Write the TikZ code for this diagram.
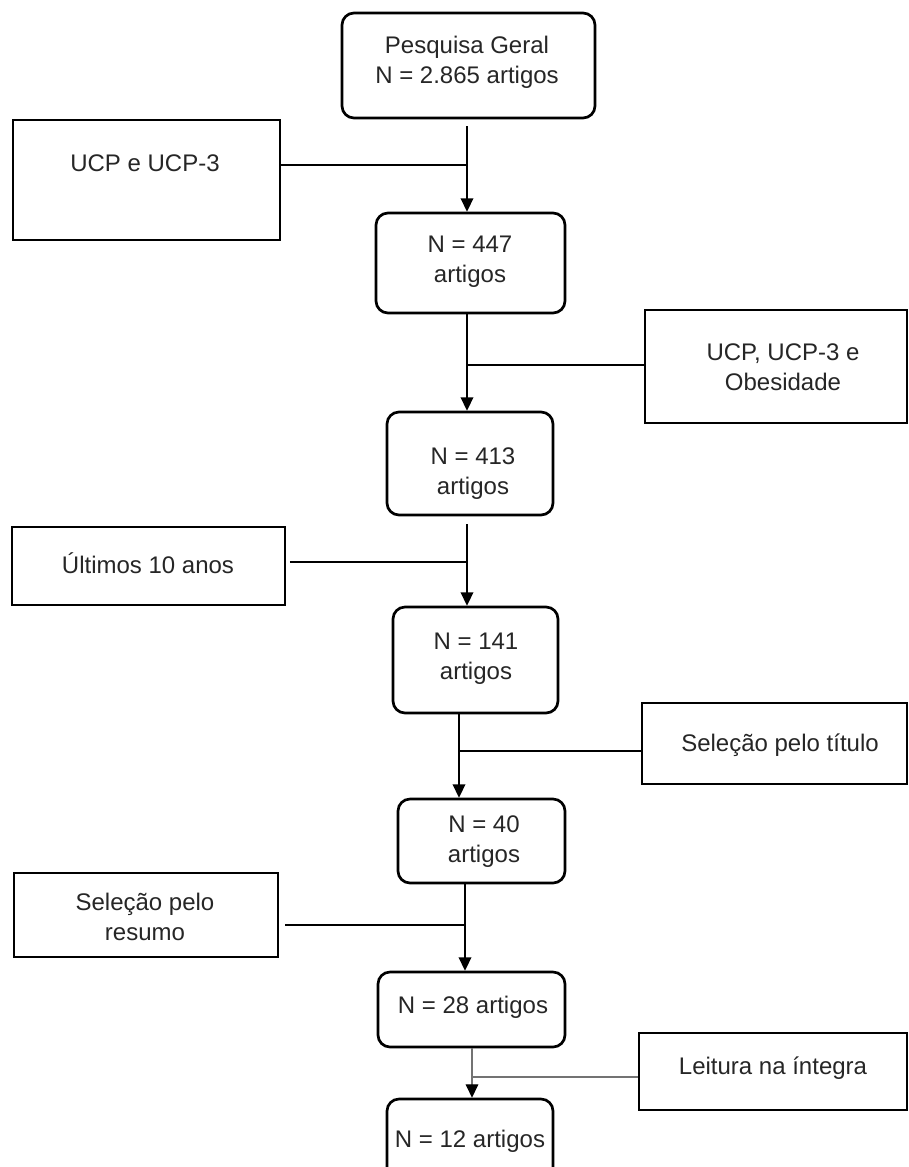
\documentclass[tikz,border=0pt]{standalone}
\usepackage{fontspec}
\setmainfont{Liberation Sans}
\usetikzlibrary{arrows.meta}
\begin{document}
\begin{tikzpicture}[x=0.75pt,y=-0.75pt,
  rbox/.style={draw, line width=2pt, rounded corners=9pt, inner sep=0pt},
  sbox/.style={draw, line width=1.2pt, rectangle, inner sep=0pt},
  txt/.style={align=center, font=\fontsize{18}{22.5}\selectfont, text=black!85, inner sep=0pt},
  conn/.style={line width=1.1pt},
  arr/.style={conn, -{Triangle[width=9.5pt,length=10pt]}},
  lightconn/.style={line width=0.8pt, draw=black!55},
  lightarr/.style={lightconn, -{Triangle[width=9.5pt,length=10pt,color=black]}}]
\clip (0,0) rectangle (909,1167);
\fill[white] (0,0) rectangle (909,1167);

% main column boxes
\node[rbox, minimum width={253*0.75pt}, minimum height={105*0.75pt}] (b1) at (468.5,65.5) {};
\node[txt] (t1) at (467,62) {Pesquisa Geral\\N = 2.865 artigos};
\node[rbox, minimum width={189*0.75pt}, minimum height={100*0.75pt}] (b2) at (470.5,263) {};
\node[txt] (t2) at (470,262) {N = 447\\artigos};
\node[rbox, minimum width={166*0.75pt}, minimum height={103*0.75pt}] (b3) at (470,463.5) {};
\node[txt] (t3) at (473,473.5) {N = 413\\artigos};
\node[rbox, minimum width={165*0.75pt}, minimum height={106*0.75pt}] (b4) at (475.5,660) {};
\node[txt] (t4) at (476,659) {N = 141\\artigos};
\node[rbox, minimum width={167*0.75pt}, minimum height={84*0.75pt}] (b5) at (481.5,841) {};
\node[txt] (t5) at (484,842) {N = 40\\artigos};
\node[rbox, minimum width={187*0.75pt}, minimum height={75*0.75pt}] (b6) at (471.5,1009.5) {};
\node[txt] (t6) at (473,1007) {N = 28 artigos};
\node[rbox, minimum width={166*0.75pt}, minimum height={81*0.75pt}] (b7) at (470,1139.5) {};
\node[txt] (t7) at (470,1141) {N = 12 artigos};

% side boxes
\node[sbox, minimum width={267*0.75pt}, minimum height={120*0.75pt}] (s1) at (146.5,180) {};
\node[txt] (u1) at (145,163) {UCP e UCP-3};
\node[sbox, minimum width={262*0.75pt}, minimum height={113*0.75pt}] (s2) at (776,366.5) {};
\node[txt] (u2) at (783,367) {UCP, UCP-3 e\\Obesidade};
\node[sbox, minimum width={273*0.75pt}, minimum height={78*0.75pt}] (s3) at (148.5,566) {};
\node[txt] (u3) at (148,563) {Últimos 10 anos};
\node[sbox, minimum width={265*0.75pt}, minimum height={81*0.75pt}] (s4) at (774.5,743.5) {};
\node[txt] (u4) at (780,745) {Seleção pelo título};
\node[sbox, minimum width={264*0.75pt}, minimum height={84*0.75pt}] (s5) at (146,915) {};
\node[txt] (u5) at (145,917) {Seleção pelo\\resumo};
\node[sbox, minimum width={268*0.75pt}, minimum height={77*0.75pt}] (s6) at (773,1071.5) {};
\node[txt] (u6) at (773,1068) {Leitura na íntegra};

% junctions
\coordinate (j1) at (467,165);
\coordinate (j2) at (467,365);
\coordinate (j3) at (467,562);
\coordinate (j4) at (459,751);
\coordinate (j5) at (465,925);
\coordinate (j6) at (472,1077);

% vertical arrows
\draw[arr, shorten <=5pt] (b1.south -| j1) -- (b2.north -| j1);
\draw[arr] (b2.south -| j2) -- (b3.north -| j2);
\draw[arr, shorten <=6pt] (b3.south -| j3) -- (b4.north -| j3);
\draw[arr] (b4.south -| j4) -- (b5.north -| j4);
\draw[arr] (b5.south -| j5) -- (b6.north -| j5);
\draw[lightarr] (b6.south -| j6) -- (b7.north -| j6);

% side connectors
\draw[conn] (s1.east |- j1) -- (j1);
\draw[conn] (j2) -- (s2.west |- j2);
\draw[conn] ([xshift=3pt]s3.east |- j3) -- (j3);
\draw[conn] (j4) -- (s4.west |- j4);
\draw[conn] ([xshift=5pt]s5.east |- j5) -- (j5);
\draw[lightconn] (j6) -- (s6.west |- j6);
\end{tikzpicture}
\end{document}
